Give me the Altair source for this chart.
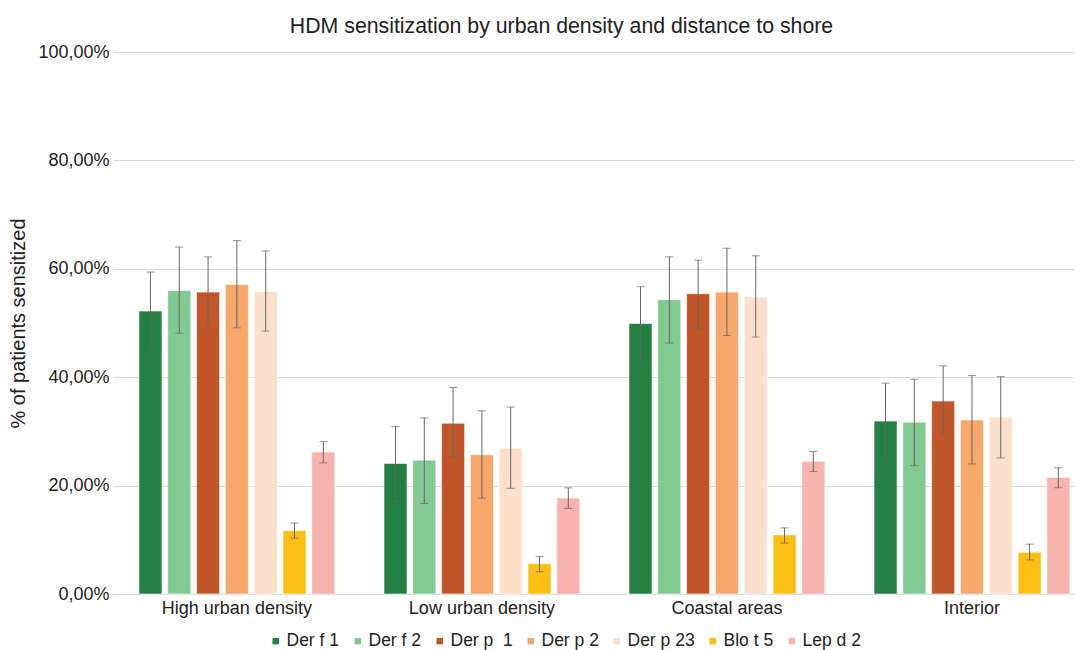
import altair as alt
import pandas as pd

groups = ["High urban density", "Low urban density", "Coastal areas", "Interior"]
series = ["Der f 1", "Der f 2", "Der p\u00a0 1", "Der p 2", "Der p 23", "Blo t 5", "Lep d 2"]
colors = ["#237f42", "#82c992", "#c05627", "#f7a769", "#fce0cb", "#fcbf14", "#f7b3ae"]

# values (%) per series, one per group
der_f1 = [52.2, 24.1, 49.9, 31.9]
der_f2 = [56.0, 24.7, 54.3, 31.7]
der_p1 = [55.7, 31.5, 55.4, 35.6]
der_p2 = [57.1, 25.7, 55.7, 32.1]
der_p23 = [55.8, 26.9, 54.8, 32.6]
blo_t5 = [11.7, 5.6, 10.9, 7.7]
lep_d2 = [26.2, 17.7, 24.5, 21.5]

# error bar lower / upper (%)
der_f1_lo = [45.4, 17.1, 43.0, 24.9]
der_f1_hi = [59.4, 30.9, 56.7, 38.9]
der_f2_lo = [48.1, 16.7, 46.3, 23.7]
der_f2_hi = [64.0, 32.5, 62.2, 39.6]
der_p1_lo = [49.3, 25.3, 48.9, 29.3]
der_p1_hi = [62.2, 38.1, 61.6, 42.1]
der_p2_lo = [49.1, 17.7, 47.7, 24.0]
der_p2_hi = [65.2, 33.8, 63.8, 40.3]
der_p23_lo = [48.5, 19.5, 47.4, 25.1]
der_p23_hi = [63.3, 34.5, 62.4, 40.1]
blo_t5_lo = [10.3, 4.1, 9.4, 6.3]
blo_t5_hi = [13.1, 6.9, 12.2, 9.2]
lep_d2_lo = [24.2, 15.8, 22.6, 19.6]
lep_d2_hi = [28.1, 19.6, 26.3, 23.3]

vals = [der_f1, der_f2, der_p1, der_p2, der_p23, blo_t5, lep_d2]
los = [der_f1_lo, der_f2_lo, der_p1_lo, der_p2_lo, der_p23_lo, blo_t5_lo, lep_d2_lo]
his = [der_f1_hi, der_f2_hi, der_p1_hi, der_p2_hi, der_p23_hi, blo_t5_hi, lep_d2_hi]

rows = []
for s, v, lo, hi in zip(series, vals, los, his):
    for g, a, b, c in zip(groups, v, lo, hi):
        rows.append({"group": g, "series": s, "value": a / 100, "low": b / 100, "high": c / 100})
df = pd.DataFrame(rows)

FONT = "Liberation Sans"

x = alt.X("group:N", sort=groups,
          scale=alt.Scale(paddingInner=0.177, paddingOuter=0.0495, align=0.95),
          axis=alt.Axis(title=None, labelAngle=0, labelFontSize=18, labelColor="#222",
                        ticks=False, domainColor="#d9d9d9", labelPadding=5))
xo = alt.XOffset("series:N", sort=series,
                 scale=alt.Scale(domain=series, paddingInner=0.2, paddingOuter=0.1))
yscale = alt.Scale(domain=[0, 1])

base = alt.Chart(df)

bars = base.mark_bar(stroke="white", strokeOpacity=0.6, strokeWidth=1).encode(
    x=x, xOffset=xo,
    y=alt.Y("value:Q", scale=yscale,
            axis=alt.Axis(title="% of patients sensitized", titleFontSize=20,
                          titleFontWeight="normal", titleColor="#222",
                          labelFontSize=18, labelColor="#222",
                          values=[0, 0.2, 0.4, 0.6, 0.8, 1.0],
                          labelExpr="replace(format(datum.value, '.2%'), '.', ',')",
                          gridColor="#d9d9d9", domain=False, ticks=False,
                          labelPadding=4, titlePadding=9)),
    color=alt.Color("series:N", sort=series,
                    scale=alt.Scale(domain=series, range=colors),
                    legend=alt.Legend(title=None, orient="none", legendX=154, legendY=580,
                                      direction="horizontal", padding=0,
                                      symbolType="square", symbolSize=42,
                                      symbolStrokeWidth=0, labelFontSize=17.5,
                                      labelColor="#222", columnPadding=9, labelOffset=2)),
)

rules = base.mark_rule(color="#666", strokeWidth=1).encode(
    x=x, xOffset=xo, y=alt.Y("low:Q", scale=yscale), y2="high:Q")
cap_hi = base.mark_tick(color="#666", thickness=1, size=8).encode(
    x=x, xOffset=xo, y=alt.Y("high:Q", scale=yscale))
cap_lo = base.mark_tick(color="#666", thickness=1, size=8).encode(
    x=x, xOffset=xo, y=alt.Y("low:Q", scale=yscale))

chart = alt.layer(bars, rules, cap_hi, cap_lo).properties(
    width=961, height=542,
    padding={"left": 0, "right": 1, "top": 7, "bottom": 0},
    title=alt.TitleParams("HDM sensitization by urban density and distance to shore",
                          fontSize=21.3, fontWeight="normal", color="#222",
                          anchor="middle", offset=6, dx=-32, font=FONT),
).configure(font=FONT).configure_view(stroke=None)

chart.save("out.html", embed_options={"renderer": "svg", "actions": False})
